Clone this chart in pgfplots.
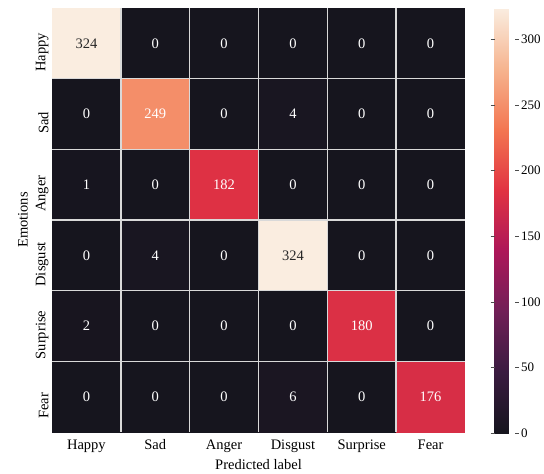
\documentclass[border=0pt]{standalone}
\usepackage{pgfplots}
\pgfplotsset{compat=1.18}
\usepackage{fontspec}
\setmainfont{Liberation Serif}
\definecolor{lbl}{gray}{0.15}
\newcommand{\ff}{\fontsize{14.5}{17}\selectfont}
\newcommand{\fc}{\fontsize{13}{15}\selectfont}
\begin{document}
\begin{tikzpicture}[x=1pt,y=1pt]
\begin{axis}[
  at={(0,0)}, anchor=south west,
  scale only axis, width=413pt, height=424pt,
  xmin=-0.5, xmax=5.5, ymin=-0.5, ymax=5.5,
  enlargelimits=false,
  y dir=reverse,
  xtick={0,1,2,3,4,5},
  xticklabels={Happy,Sad,Anger,Disgust,Surprise,Fear},
  ytick={0,1,2,3,4,5},
  yticklabels={Happy,Sad,Anger,Disgust,Surprise,Fear},
  major tick length=0pt,
  minor xtick={0.5,1.5,2.5,3.5,4.5},
  minor ytick={0.5,1.5,2.5,3.5,4.5},
  minor tick length=0pt,
  grid=minor,
  minor grid style={draw=black!15!white, line width=1.6pt},
  axis on top,
  axis line style={draw=none},
  tick label style={font=\ff, text=black},
  xticklabel style={yshift=-4pt},
  yticklabel style={rotate=90, anchor=south, xshift=-9pt},
  label style={font=\ff},
  xlabel={Predicted label},
  ylabel={Emotions},
  xlabel style={yshift=0pt},
  ylabel style={yshift=1pt},
  colormap={rocket}{rgb255(0)=(22,21,30); rgb255(1)=(58,27,64); rgb255(2)=(112,31,87); rgb255(3)=(173,23,89); rgb255(4)=(225,51,66); rgb255(5)=(243,118,81); rgb255(6)=(246,180,143); rgb255(7)=(250,237,224)},
  point meta min=0, point meta max=324,
  colorbar,
  colorbar style={
    at={(parent axis.north east)}, anchor=north west, xshift=21pt,
    scale only axis, width=20pt, height=425pt,
    ytick={0,50,100,150,200,250,300},
    yticklabel pos=right,
    tick align=outside,
    major tick length=4pt,
    tick style={draw=black!70, line width=0.6pt},
    axis line style={draw=none},
    yticklabel style={font=\fc, xshift=-1pt},
    /pgf/number format/assume math mode=true,
  },
]
\addplot[matrix plot*, mesh/cols=6, mesh/rows=6, point meta=explicit] table[meta=c] {
x y c
0 0 324
1 0 0
2 0 0
3 0 0
4 0 0
5 0 0
0 1 0
1 1 249
2 1 0
3 1 4
4 1 0
5 1 0
0 2 1
1 2 0
2 2 182
3 2 0
4 2 0
5 2 0
0 3 0
1 3 4
2 3 0
3 3 324
4 3 0
5 3 0
0 4 2
1 4 0
2 4 0
3 4 0
4 4 180
5 4 0
0 5 0
1 5 0
2 5 0
3 5 6
4 5 0
5 5 176
};
\addplot[only marks, mark=none, nodes near coords, point meta=explicit symbolic,
  nodes near coords style={anchor=center, font=\ff, text=white}] table[meta=c] {
x y c
1 0 0
2 0 0
3 0 0
4 0 0
5 0 0
0 1 0
1 1 249
2 1 0
3 1 4
4 1 0
5 1 0
0 2 1
1 2 0
2 2 182
3 2 0
4 2 0
5 2 0
0 3 0
1 3 4
2 3 0
4 3 0
5 3 0
0 4 2
1 4 0
2 4 0
3 4 0
4 4 180
5 4 0
0 5 0
1 5 0
2 5 0
3 5 6
4 5 0
5 5 176
};
\addplot[only marks, mark=none, nodes near coords, point meta=explicit symbolic,
  nodes near coords style={anchor=center, font=\ff, text=lbl}] table[meta=c] {
x y c
0 0 324
3 3 324
};
\end{axis}
\pgfresetboundingbox
\useasboundingbox (-52pt,-42pt) rectangle (492pt,432pt);
\end{tikzpicture}
\end{document}
